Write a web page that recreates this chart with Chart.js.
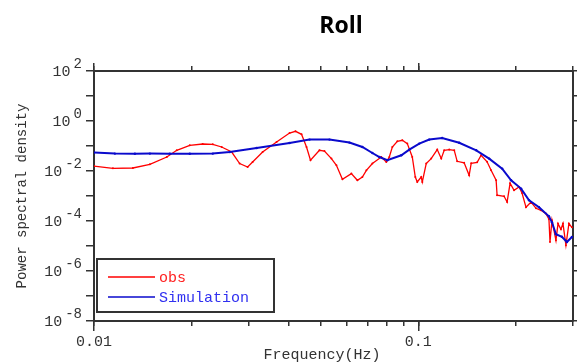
<!DOCTYPE html>
<html>
<head>
<meta charset="utf-8">
<script src="https://cdn.jsdelivr.net/npm/chart.js@4"></script>
<style>
  body { margin: 0; background: #fff; }
  #wrap { width: 577px; height: 363px; }
</style>
</head>
<body>
<div id="wrap"><canvas id="psd"></canvas></div>
<script>
// observed spectrum
const obsFreq = [0.01, 0.01144, 0.01318, 0.01487, 0.01677, 0.018, 0.01974, 0.02164, 0.02324, 0.02476,
  0.02659, 0.02813, 0.02977, 0.03084, 0.03311, 0.03656, 0.04009, 0.04182, 0.04365, 0.04522,
  0.04652, 0.04957, 0.05136, 0.05397, 0.05592, 0.05835, 0.06218, 0.06489, 0.06723, 0.06918,
  0.07219, 0.07692, 0.07968, 0.0814, 0.08318, 0.08618, 0.08929, 0.09251, 0.09583, 0.0979,
  0.09929, 0.1021, 0.1029, 0.1058, 0.1096, 0.1144, 0.1177, 0.1202, 0.1246, 0.1291,
  0.1318, 0.1385, 0.1435, 0.1456, 0.1519, 0.1562, 0.163, 0.1677, 0.1738, 0.175,
  0.1839, 0.1879, 0.1919, 0.1974, 0.2045, 0.2089, 0.2149, 0.2227, 0.2307, 0.239,
  0.2476, 0.2529, 0.2548, 0.2584, 0.2658, 0.2697, 0.2754, 0.2794, 0.2853, 0.2914, 0.2977];
const obsPsd = [0.0158, 0.01282, 0.01318, 0.01854, 0.0363, 0.0673, 0.1067, 0.1202, 0.1169, 0.0912,
  0.0575, 0.01977, 0.01445, 0.02291, 0.0575, 0.1445, 0.3311, 0.3873, 0.2938, 0.0912,
  0.0268, 0.0673, 0.0631, 0.0313, 0.0169, 0.00466, 0.00787, 0.00425, 0.00575, 0.01067,
  0.01977, 0.0363, 0.0229, 0.0363, 0.0912, 0.1542, 0.169, 0.1247, 0.0363, 0.00575,
  0.00363, 0.00575, 0.00363, 0.01977, 0.0313, 0.0718, 0.0313, 0.0673, 0.0718, 0.0673,
  0.0244, 0.0213, 0.00673, 0.0203, 0.0223, 0.0425, 0.0233, 0.01067, 0.00425, 0.00107,
  0.000973, 0.000575, 0.00322, 0.00169, 0.00229, 0.00132, 0.000353, 0.000575, 0.000322, 0.000268,
  0.000198, 0.000117, 0.0000145, 0.000107, 0.0000169, 0.0000787, 0.0000466, 0.0000787, 0.0000107, 0.0000787, 0.000056];

// simulated spectrum
const simFreq = [0.01, 0.0116, 0.01337, 0.01487, 0.01713, 0.01974, 0.02324, 0.02621, 0.03174, 0.04009,
  0.0462, 0.05323, 0.06132, 0.06723, 0.07219, 0.07586, 0.08027, 0.08865, 0.09382, 0.1007,
  0.1081, 0.1185, 0.1337, 0.1509, 0.1654, 0.1814, 0.1933, 0.2075, 0.2196, 0.2357,
  0.2529, 0.2584, 0.2658, 0.2773, 0.2873, 0.2977];
const simPsd = [0.0545, 0.0497, 0.0488, 0.0497, 0.0492, 0.0492, 0.0497, 0.0575, 0.0832, 0.1318,
  0.1803, 0.1803, 0.1368, 0.0912, 0.0525, 0.0363, 0.0268, 0.0425, 0.0718, 0.1247,
  0.1803, 0.2089, 0.1343, 0.0673, 0.0313, 0.01247, 0.00425, 0.00198, 0.000673, 0.000353,
  0.000154, 0.0000887, 0.0000294, 0.0000233, 0.0000145, 0.0000229];

// axes
const xMin = 0.01, xMax = 0.3;
const yMin = 1e-8, yMax = 1e2;
const xMajorTicks = [0.01, 0.1];
const xTickLabels = ['0.01', '0.1'];
const xMinorTicks = [0.01, 0.02, 0.03, 0.04, 0.05, 0.06, 0.07, 0.08, 0.09, 0.1, 0.2, 0.3];
const yTicks = [1e-8, 1e-7, 1e-6, 1e-5, 1e-4, 1e-3, 1e-2, 1e-1, 1e0, 1e1, 1e2];
const yLabelExps = [2, 0, -2, -4, -6, -8];

const AXIS = '#333';
const MONO = '"Liberation Mono", "DejaVu Sans Mono", monospace';

function pts(xs, ys) {
  return xs.map((x, i) => ({ x: x, y: ys[i] }));
}

function setTicks(list) {
  return function (scale) {
    scale.ticks = list.map(v => ({ value: v }));
  };
}

function fixSize(w, h) {
  return function (scale) {
    if (w !== null) scale.width = w;
    if (h !== null) scale.height = h;
  };
}

function logAxis(pos, min, max, ticks, tickLen, size, extra) {
  const horiz = pos === 'top' || pos === 'bottom';
  return Object.assign({
    type: 'logarithmic',
    position: pos,
    min: min,
    max: max,
    afterBuildTicks: setTicks(ticks),
    afterFit: horiz ? fixSize(null, size) : fixSize(size, null),
    grid: { drawOnChartArea: false, drawTicks: true, tickLength: tickLen, color: AXIS, lineWidth: 1.5 },
    border: { display: true, color: AXIS, width: 2 },
    ticks: { display: false, autoSkip: false }
  }, extra || {});
}

const textPlugin = {
  id: 'textPlugin',
  afterDraw(chart) {
    const ctx = chart.ctx;
    const ys = chart.scales.y;
    ctx.save();

    // y tick labels, 10 with a raised exponent
    ctx.fillStyle = AXIS;
    ctx.textBaseline = 'middle';
    ctx.textAlign = 'right';
    yLabelExps.forEach(e => {
      const py = ys.getPixelForValue(Math.pow(10, e));
      const exp = String(e);
      ctx.font = '14px ' + MONO;
      ctx.fillText(exp, 82, py - 7);
      const w = ctx.measureText(exp).width;
      ctx.font = '15px ' + MONO;
      ctx.fillText('10', 82 - w - 3, py + 1);
    });

    // axis titles
    ctx.textAlign = 'center';
    ctx.font = '15px ' + MONO;
    ctx.fillText('Frequency(Hz)', 322, 355);
    ctx.save();
    ctx.translate(22, 196);
    ctx.rotate(-Math.PI / 2);
    ctx.font = '14px ' + MONO;
    ctx.fillText('Power spectral density', 0, 0);
    ctx.restore();

    // title
    ctx.fillStyle = '#000';
    ctx.font = 'bold 23px "Open Sans", "Noto Sans", sans-serif';
    ctx.textBaseline = 'alphabetic';
    ctx.fillText('Roll', 341, 33);

    // legend box
    ctx.fillStyle = '#fff';
    ctx.fillRect(97, 259, 177, 53);
    ctx.strokeStyle = AXIS;
    ctx.lineWidth = 2;
    ctx.strokeRect(97, 259, 177, 53);
    const rows = [277, 297];
    const txtCol = ['#ff2020', '#3030f0'];
    ctx.font = '15px ' + MONO;
    ctx.textAlign = 'left';
    ctx.textBaseline = 'middle';
    chart.data.datasets.forEach((ds, i) => {
      ctx.strokeStyle = ds.borderColor;
      ctx.lineWidth = 1.5;
      ctx.beginPath();
      ctx.moveTo(108, rows[i]);
      ctx.lineTo(155, rows[i]);
      ctx.stroke();
      ctx.fillStyle = txtCol[i];
      ctx.fillText(ds.label, 159, rows[i] + 1);
    });
    ctx.restore();
  }
};

new Chart(document.getElementById('psd'), {
  type: 'line',
  data: {
    datasets: [
      {
        label: 'obs',
        data: pts(obsFreq, obsPsd),
        borderColor: '#ff0000',
        backgroundColor: '#ff0000',
        borderWidth: 1.3,
        pointRadius: 1,
        pointBorderWidth: 0,
        order: 1
      },
      {
        label: 'Simulation',
        data: pts(simFreq, simPsd),
        borderColor: '#0a0acc',
        backgroundColor: '#0a0acc',
        borderWidth: 2,
        pointRadius: 1.2,
        pointBorderWidth: 0,
        order: 0
      }
    ]
  },
  options: {
    responsive: true,
    maintainAspectRatio: false,
    devicePixelRatio: 1,
    animation: false,
    events: [],
    layout: { padding: { top: 71, left: 0, right: 0, bottom: 0 } },
    plugins: { legend: { display: false }, title: { display: false }, tooltip: { enabled: false } },
    scales: {
      xm: logAxis('bottom', xMin, xMax, xMinorTicks, 5, 0, { weight: 0, border: { display: false } }),
      x: logAxis('bottom', xMin, xMax, xMajorTicks, 10, 42, {
        weight: 1,
        ticks: {
          display: true,
          autoSkip: false,
          maxRotation: 0,
          padding: 2,
          color: AXIS,
          font: { family: MONO, size: 15 },
          callback: function (v, i) { return xTickLabels[i]; }
        }
      }),
      x2m: logAxis('top', xMin, xMax, xMinorTicks, 5, 0, { weight: 0 }),
      x2: logAxis('top', xMin, xMax, xMajorTicks, 8, 0, { weight: 1, border: { display: false } }),
      y: logAxis('left', yMin, yMax, yTicks, 8, 94),
      y2: logAxis('right', yMin, yMax, yTicks, 4, 3)
    }
  },
  plugins: [textPlugin]
});
</script>
</body>
</html>
